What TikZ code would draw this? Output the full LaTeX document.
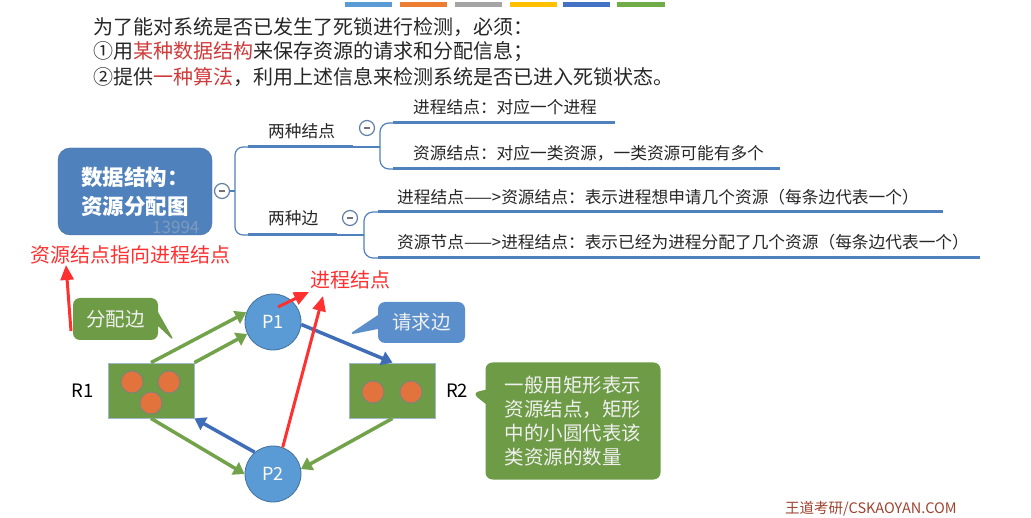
\documentclass[tikz,border=0pt]{standalone}
\usepackage{fontspec}
\setmainfont{Noto Sans CJK SC}
\usepackage{xcolor}
\usepackage{tikz}
\usetikzlibrary{arrows.meta, shapes.callouts, positioning}

\definecolor{mapblue}{HTML}{4F81BD}
\definecolor{procblue}{HTML}{5B9BD5}
\definecolor{procedge}{HTML}{41719C}
\definecolor{resgreen}{HTML}{6E9B45}
\definecolor{allocgreen}{HTML}{72A34B}
\definecolor{reqblue}{HTML}{3F6DB8}
\definecolor{tipblue}{HTML}{5A8FCB}
\definecolor{unitorange}{HTML}{E2733D}
\definecolor{notered}{HTML}{FF3030}
\definecolor{keyred}{HTML}{D03A3A}
\definecolor{markbrown}{HTML}{A0432F}
\definecolor{barorange}{HTML}{ED7D31}
\definecolor{bargray}{HTML}{A5A5A5}
\definecolor{baryellow}{HTML}{FFC000}
\definecolor{bardark}{HTML}{4472C4}
\definecolor{bargreen}{HTML}{70AD47}

\begin{document}
\begin{tikzpicture}[x=1pt, y=-1pt,
    intro/.style={anchor=west, inner sep=0pt, text=black!85, font=\fontsize{20}{22}\selectfont},
    branch/.style={anchor=west, inner sep=0pt, text=black!85, font=\fontsize{16.7}{19}\selectfont},
    hint/.style={anchor=west, inner sep=0pt, text=notered, font=\fontsize{20}{22}\selectfont},
    root/.style={rectangle, rounded corners=12pt, fill=mapblue, draw=mapblue!85!black, minimum width=154pt, minimum height=87pt, text=white, align=left, font=\bfseries\fontsize{21.5}{29}\selectfont},
    fold/.style={circle, draw=mapblue!60!gray, fill=white, line width=1.2pt, minimum size=15pt, inner sep=0pt,
      path picture={\draw[line width=1.4pt, black!55] ([xshift=-3pt]path picture bounding box.center) -- ([xshift=3pt]path picture bounding box.center);}},
    thin/.style={draw=mapblue, line width=1.2pt},
    uline/.style={draw=mapblue, line width=3pt},
    proc/.style={circle, fill=procblue, draw=procedge, line width=0.8pt, minimum size=56pt, inner sep=0pt, text=white, font=\fontsize{18}{18}\selectfont},
    res/.style={rectangle, fill=resgreen, draw=procedge!50, line width=0.8pt, minimum width=86pt, minimum height=55pt, inner sep=0pt},
    unit/.style={circle, fill=unitorange, draw=gray, line width=0.8pt, minimum size=22pt, inner sep=0pt},
    rname/.style={inner sep=0pt, font=\fontsize{18.5}{18}\selectfont},
    alloc/.style={draw=allocgreen, line width=3.5pt, -{Triangle[length=11pt, width=14pt]}},
    req/.style={draw=reqblue, line width=3.5pt, -{Triangle[length=11pt, width=14pt]}},
    tip/.style={rectangle callout, rounded corners=7pt, callout pointer width=14pt, inner sep=0pt, text=white!94!black, align=left, font=\fontsize{19.5}{24}\selectfont},
    redarrow/.style={draw=notered, line width=3pt, -{Triangle[length=15pt, width=13pt]}}]

\useasboundingbox (0,0) rectangle (1031,518);
\fill[white] (0,0) rectangle (1031,518);

% colour bars
\fill[procblue] (345,2) rectangle (392,7);
\fill[barorange] (400,2) rectangle (447,7);
\fill[bargray] (455,2) rectangle (502,7);
\fill[baryellow] (510,2) rectangle (557,7);
\fill[bardark] (563,2) rectangle (610,7);
\fill[bargreen] (617,2) rectangle (665,7);

% intro
\node [intro] (q1) at (93,27) {为了能对系统是否已发生了死锁进行检测，必须：};
\node [intro] (q2) at (93,52) {①用\textcolor{keyred}{某种数据结构}来保存资源的请求和分配信息；};
\node [intro] (q3) at (93,77) {②提供\textcolor{keyred}{一种算法}，利用上述信息来检测系统是否已进入死锁状态。};

% mind map
\node [root] (root) at (135,191.5) {数据结构：\\资源分配图};
\node [anchor=west, inner sep=0pt, text=gray!55, opacity=0.45, font=\fontsize{17}{17}\selectfont] (wm) at (152,227) {13994};
\node [fold] (f0) at (222,191) {};
\draw [thin] (f0) -- (235,191);
\draw [thin, rounded corners=8pt] (248,147) -- (235,147) -- (235,235) -- (248,235);

\node [branch] (nodes) at (268,131) {两种结点};
\draw [uline] (248,147) -- (353,147);
\draw [thin] (353,147) -- (380,147);
\node [fold] (f1) at (367,128) {};
\draw [thin, rounded corners=9pt] (393,123) -- (380,123) -- (380,169) -- (393,169);
\node [branch] (l1) at (413,107) {进程结点：对应一个进程};
\node [branch] (l2) at (413,153) {资源结点：对应一类资源，一类资源可能有多个};
\draw [uline] (393,123) -- (615,123);
\draw [uline] (393,169) -- (780,169);

\node [branch] (edges) at (268,218) {两种边};
\draw [uline] (248,235) -- (337,235);
\draw [thin] (337,235) -- (364,235);
\node [fold] (f2) at (350,218) {};
\draw [thin, rounded corners=9pt] (378,212) -- (364,212) -- (364,258) -- (378,258);
\node [branch] (l3) at (397,197) {进程结点——>资源结点：表示进程想申请几个资源（每条边代表一个）};
\node [branch] (l4) at (397,242) {资源节点——>进程结点：表示已经为进程分配了几个资源（每条边代表一个）};
\draw [uline] (378,212) -- (943,212);
\draw [uline] (378,258) -- (980,258);

% callouts
\node [tip, fill=resgreen, minimum width=85pt, minimum height=42pt, callout absolute pointer={(175,342)}] (c1) at (115.5,319) {分配边};
\node [tip, fill=tipblue, minimum width=87pt, minimum height=41pt, callout absolute pointer={(348,335)}] (c2) at (421.5,322.5) {请求边};
\node [tip, fill=resgreen, minimum width=175pt, minimum height=117pt, callout absolute pointer={(472,393)}] (c3) at (573,421) {一般用矩形表示\\资源结点，矩形\\中的小圆代表该\\类资源的数量};

% resource allocation graph
\node [proc] (p1) at (273,322) {P1};
\node [proc] (p2) at (273,474) {P2};
\node [res] (r1) at (151,390.5) {};
\node [res] (r2) at (392.5,390.5) {};
\node [unit] at (132,382) {};
\node [unit] at (169,382) {};
\node [unit] at (151,403) {};
\node [unit] at (373,392) {};
\node [unit] at (411,392) {};
\node [rname, left=14pt of r1] {R1};
\node [rname, right=10pt of r2] {R2};

\draw [alloc] (r1.north) -- (p1.160);
\draw [alloc] (r1.north east) -- (p1.205);
\draw [req] (p1.355) -- (r2.north);
\draw [alloc] (r1.south) -- (p2.180);
\draw [req] (p2.130) -- (r1.south east);
\draw [alloc] (r2.south) -- (p2.10);

% notes
\node [hint] (n1) at (30,255) {资源结点指向进程结点};
\node [hint] (n2) at (310,280) {进程结点};
\coordinate (t1) at (71,331);
\coordinate (h1) at (66,265);
\coordinate (h2) at (309,292);
\coordinate (h3) at (323,296);
\draw [redarrow] (t1) -- (h1);
\draw [redarrow] ([shift={(5,-15)}]p1.center) -- (h2);
\draw [redarrow] (p2.70) -- (h3);

\node [anchor=west, inner sep=0pt, text=markbrown, font=\fontsize{14.5}{16}\selectfont] (mark) at (785,509) {王道考研/CSKAOYAN.COM};

\end{tikzpicture}
\end{document}
